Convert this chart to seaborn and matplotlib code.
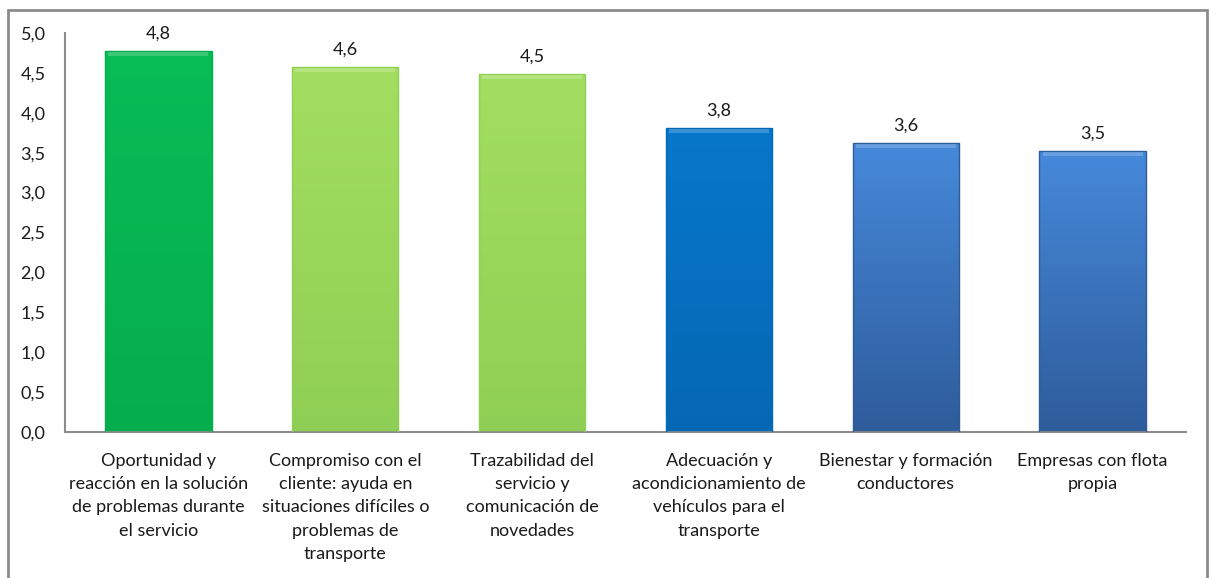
import numpy as np
import pandas as pd
import matplotlib
matplotlib.use("Agg")
import matplotlib.pyplot as plt
from matplotlib.patches import Rectangle
import seaborn as sns

# Datos
categorias = [
    "Oportunidad y\nreacción en la solución\nde problemas durante\nel servicio",
    "Compromiso con el\ncliente: ayuda en\nsituaciones difíciles o\nproblemas de\ntransporte",
    "Trazabilidad del\nservicio y\ncomunicación de\nnovedades",
    "Adecuación y\nacondicionamiento de\nvehículos para el\ntransporte",
    "Bienestar y formación\nconductores",
    "Empresas con flota\npropia",
]
valores = [4.77, 4.57, 4.48, 3.81, 3.62, 3.52]
etiquetas_y = ["0,0", "0,5", "1,0", "1,5", "2,0", "2,5", "3,0", "3,5", "4,0", "4,5", "5,0"]

# colores (arriba, abajo) para imitar el degradado de Excel
colores_sup = ["#08BC56", "#A2DF60", "#A2DF60", "#0777CB", "#4689DA", "#4689DA"]
colores_inf = ["#06AD4D", "#90CF55", "#90CF55", "#0568B4", "#2E5C9B", "#2E5C9B"]

df = pd.DataFrame({"cat": categorias, "val": valores})

sns.set_theme(style="white")
plt.rcParams["font.family"] = ["Lato", "DejaVu Sans"]

fig = plt.figure(figsize=(12.09, 5.78), dpi=100)
ax = fig.add_axes([65 / 1209, 1 - 432 / 578, (1186 - 65) / 1209, (432 - 33) / 578])

sns.barplot(data=df, x="cat", y="val", hue="cat", palette=colores_sup,
            legend=False, width=0.57, ax=ax, saturation=1)

# degradado vertical y brillo superior en cada barra
for i, (p, c1, c2) in enumerate(zip(ax.patches, colores_sup, colores_inf)):
    x0, y0 = p.get_x(), p.get_y()
    w, h = p.get_width(), p.get_height()
    cmap = matplotlib.colors.LinearSegmentedColormap.from_list("g", [c2, c1])
    grad = np.linspace(0, 1, 100).reshape(-1, 1)
    im = ax.imshow(grad, cmap=cmap, origin="lower", aspect="auto",
                   extent=(x0, x0 + w, y0, y0 + h), zorder=2)
    im.set_clip_path(p)
    p.set_edgecolor(c2)
    p.set_linewidth(1.0)
    p.set_zorder(3)
    p.set_facecolor("none")
    top = Rectangle((x0 + w * 0.03, y0 + h - 0.06), w * 0.94, 0.05,
                    facecolor="white", alpha=0.2, edgecolor="none", zorder=4)
    ax.add_patch(top)
    ax.text(x0 + w / 2, y0 + h + 0.12, f"{valores[i]:.1f}".replace(".", ","),
            ha="center", va="bottom", fontsize=13, color="#1a1a1a")

ax.set_xlim(-0.5, len(categorias) - 0.5)
ax.set_ylim(0, 5)
ax.set_yticks(np.arange(0, 5.01, 0.5))
ax.set_yticklabels(etiquetas_y, fontsize=13, color="#1a1a1a")
ax.set_xticks(range(len(categorias)))
ax.set_xticklabels(categorias, fontsize=13, color="#1a1a1a", linespacing=1.56)
ax.tick_params(axis="y", length=0, pad=14)
ax.tick_params(axis="x", length=0, pad=15)
ax.set_xlabel("")
ax.set_ylabel("")

for s in ["top", "right"]:
    ax.spines[s].set_visible(False)
for s in ["left", "bottom"]:
    ax.spines[s].set_color("#8c8c8c")
    ax.spines[s].set_linewidth(1.5)

# borde exterior del gráfico
borde = Rectangle((8 / 1209, -0.05), (1207 - 8) / 1209, 1.05 - 10 / 578,
                  transform=fig.transFigure, fill=False, edgecolor="#8c8c8c",
                  linewidth=2, clip_on=False)
fig.patches.append(borde)

fig.savefig("out.png", dpi=100)
